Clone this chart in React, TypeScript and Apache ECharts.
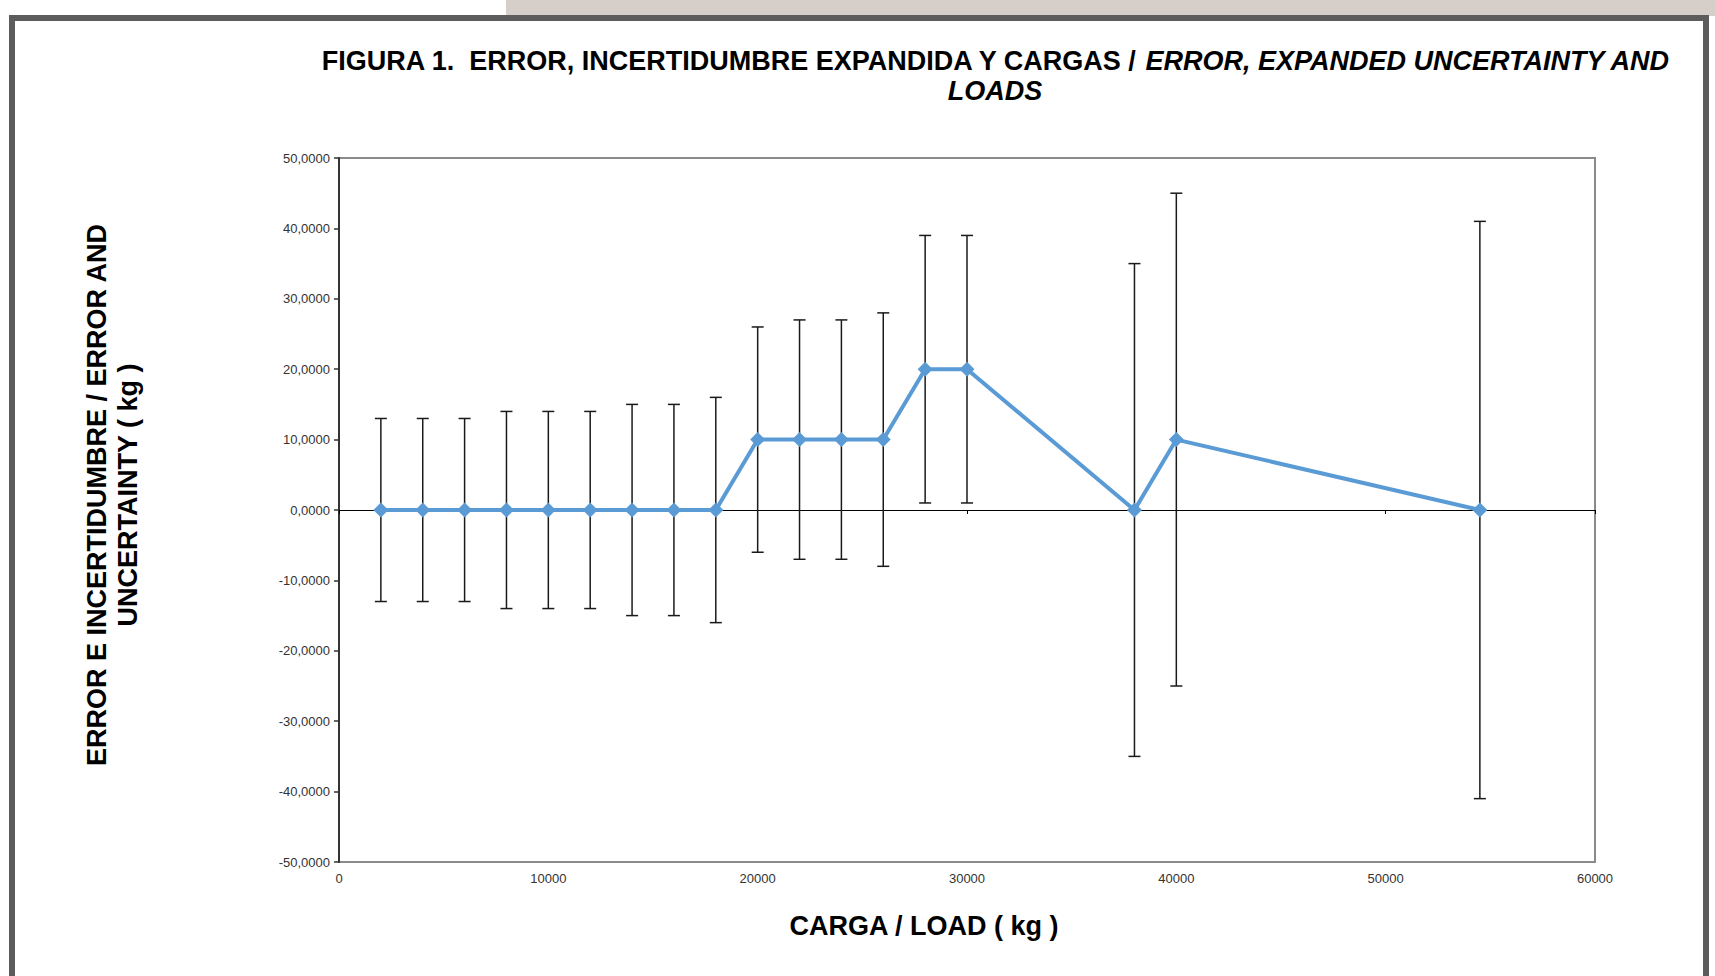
import React, { useEffect, useRef } from "react";
import * as echarts from "echarts";

const loads = [2000, 4000, 6000, 8000, 10000, 12000, 14000, 16000, 18000, 20000, 22000, 24000, 26000, 28000, 30000, 38000, 40000, 54500];
const errors = [0, 0, 0, 0, 0, 0, 0, 0, 0, 10, 10, 10, 10, 20, 20, 0, 10, 0];
const uncertainties = [13, 13, 13, 14, 14, 14, 15, 15, 16, 16, 17, 17, 18, 19, 19, 35, 35, 41];
const xTicks = [0, 10000, 20000, 30000, 40000, 50000, 60000];
const yTicks = [-50, -40, -30, -20, -10, 0, 10, 20, 30, 40, 50];

const titleLine1 = "FIGURA 1.  ERROR, INCERTIDUMBRE EXPANDIDA Y CARGAS / ";
const titleLine1b = "ERROR, EXPANDED UNCERTAINTY AND";
const titleLine2 = "LOADS";
const xTitle = "CARGA / LOAD ( kg )";
const yTitle = "ERROR E INCERTIDUMBRE / ERROR AND\nUNCERTAINTY ( kg )";

export default function App() {
  const ref = useRef<HTMLDivElement>(null);
  useEffect(() => {
    if (!ref.current) return;
    const chart = echarts.init(ref.current, undefined, { renderer: "svg" });
    const lineData = loads.map((x, i) => [x, errors[i]]);
    const barData = loads.map((x, i) => [x, errors[i] - uncertainties[i], errors[i] + uncertainties[i]]);
    const font = "'Liberation Sans', Arial, sans-serif";
    chart.setOption({
      animation: false,
      backgroundColor: "#ffffff",
      textStyle: { fontFamily: font },
      title: {
        left: 990,
        top: 41,
        textAlign: "center",
        text: `{a|${titleLine1}}{b|${titleLine1b}}\n{b|${titleLine2}}`,
        textStyle: {
          rich: {
            a: { fontSize: 27, fontWeight: "bold", fontFamily: font, color: "#000", lineHeight: 30 },
            b: { fontSize: 27, fontWeight: "bold", fontStyle: "italic", fontFamily: font, color: "#000", lineHeight: 30 },
          },
        },
      },
      graphic: [
        { type: "rect", z: -10, shape: { x: 506, y: 0, width: 1209, height: 16 }, style: { fill: "#d6cec9" } },
        { type: "rect", z: -5, shape: { x: 12, y: 18, width: 1694, height: 975 }, style: { fill: "#ffffff", stroke: "#5c5c5c", lineWidth: 6 } },
        {
          type: "text",
          x: 924,
          y: 926,
          style: { text: xTitle, fontSize: 27, fontWeight: "bold", fontFamily: font, fill: "#000", align: "center", verticalAlign: "middle" },
        },
        {
          type: "text",
          x: 112,
          y: 495,
          rotation: Math.PI / 2,
          style: { text: yTitle, fontSize: 27, fontWeight: "bold", fontFamily: font, fill: "#000", align: "center", verticalAlign: "middle", lineHeight: 31 },
        },
      ],
      grid: {
        left: 339,
        top: 158,
        right: 120,
        bottom: 114,
        show: true,
        borderColor: "#8a8a8a",
        borderWidth: 2,
        backgroundColor: "transparent",
      },
      xAxis: [
        {
          type: "value",
          min: xTicks[0],
          max: xTicks[xTicks.length - 1],
          interval: 10000,
          position: "bottom",
          axisLine: { show: false, onZero: false },
          axisTick: { show: false },
          splitLine: { show: false },
          axisLabel: { fontSize: 13, color: "#333", margin: 10, fontFamily: font, formatter: (v: number) => String(v) },
        },
        {
          type: "value",
          min: xTicks[0],
          max: xTicks[xTicks.length - 1],
          interval: 10000,
          position: "top",
          axisLine: { show: true, onZero: true, lineStyle: { color: "#000", width: 1 } },
          axisTick: { show: true, inside: true, length: 4, lineStyle: { color: "#000" } },
          splitLine: { show: false },
          axisLabel: { show: false },
        },
      ],
      yAxis: {
        type: "value",
        min: yTicks[0],
        max: yTicks[yTicks.length - 1],
        interval: 10,
        axisLine: { show: true, onZero: false, lineStyle: { color: "#333", width: 2 } },
        axisTick: { show: true, length: 5, lineStyle: { color: "#333", width: 1.5 } },
        splitLine: { show: false },
        axisLabel: {
          fontSize: 13,
          color: "#333",
          margin: 9,
          fontFamily: font,
          formatter: (v: number) => v.toFixed(4).replace(".", ","),
        },
      },
      series: [
        {
          type: "custom",
          xAxisIndex: 0,
          z: 2,
          data: barData,
          encode: { x: 0, y: [1, 2] },
          renderItem: (params: any, api: any) => {
            const x = api.value(0);
            const lo = api.value(1);
            const hi = api.value(2);
            const top = api.coord([x, hi]);
            const bot = api.coord([x, lo]);
            const hw = 6;
            const st = { stroke: "#1a1a1a", lineWidth: 1.5 };
            return {
              type: "group",
              children: [
                { type: "line", shape: { x1: top[0], y1: top[1], x2: bot[0], y2: bot[1] }, style: st },
                { type: "line", shape: { x1: top[0] - hw, y1: top[1], x2: top[0] + hw, y2: top[1] }, style: st },
                { type: "line", shape: { x1: bot[0] - hw, y1: bot[1], x2: bot[0] + hw, y2: bot[1] }, style: st },
              ],
            };
          },
        },
        {
          type: "line",
          xAxisIndex: 0,
          z: 5,
          data: lineData,
          symbol: "diamond",
          symbolSize: 15,
          itemStyle: { color: "#5b9bd5" },
          lineStyle: { color: "#5b9bd5", width: 4 },
        },
      ],
    });
    return () => chart.dispose();
  }, []);
  return <div ref={ref} style={{ position: "fixed", left: 0, top: 0, width: 1715, height: 976 }} />;
}
